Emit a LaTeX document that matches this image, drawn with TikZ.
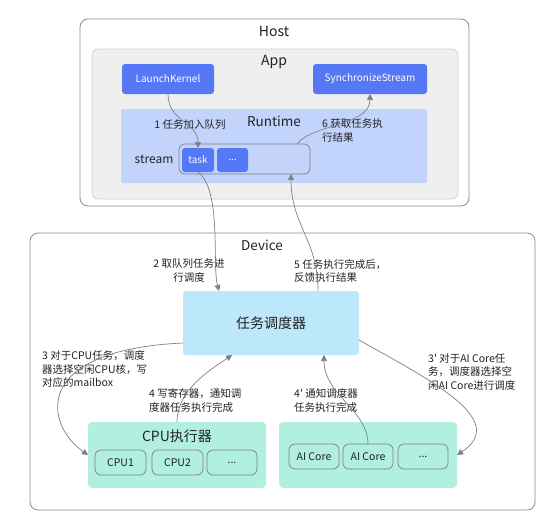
\documentclass[tikz,border=0pt]{standalone}
\usepackage{fontspec}
\setmainfont{Noto Sans CJK SC}
\newfontfamily\aposfont{Noto Sans CJK SC}
\newcommand{\apos}{{\aposfont '}}
\usetikzlibrary{arrows.meta,calc}
\definecolor{hostline}{HTML}{8C8C8C}
\definecolor{appfill}{HTML}{EFEFEF}
\definecolor{appline}{HTML}{CFCFCF}
\definecolor{kblue}{HTML}{5677F6}
\definecolor{rtfill}{HTML}{C2D4FC}
\definecolor{schfill}{HTML}{BDE8FB}
\definecolor{mint}{HTML}{B1EFE1}
\definecolor{conn}{HTML}{808080}
\definecolor{txt}{HTML}{222222}
\begin{document}
\begin{tikzpicture}[x=1pt,y=-1pt,
  box/.style={inner sep=0pt,outer sep=0pt,minimum width=#1},
  frame/.style={draw=hostline,fill=white,rounded corners=8pt,line width=0.8pt},
  appbox/.style={draw=appline,fill=appfill,rounded corners=6pt,line width=0.6pt},
  bluebox/.style={fill=kblue,rounded corners=3pt,text=white,font=\fontsize{10}{12}\selectfont},
  rtbox/.style={fill=rtfill,rounded corners=2pt},
  streambox/.style={draw=conn,rounded corners=6pt,line width=0.7pt},
  schbox/.style={fill=schfill,rounded corners=3pt,text=txt,font=\fontsize{14}{16}\selectfont},
  mintbox/.style={fill=mint,rounded corners=4pt},
  corebox/.style={draw=conn,fill=mint,rounded corners=6pt,line width=0.7pt,text=txt,font=\fontsize{10.5}{12}\selectfont},
  title/.style={text=txt,inner sep=0pt,font=\fontsize{14}{16}\selectfont},
  lbl/.style={text=txt,inner sep=0pt,align=left,font=\fontsize{10.5}{13.5}\selectfont},
  arr/.style={draw=conn,line width=0.7pt,-{Triangle[width=6pt,length=6pt]}}
]
\useasboundingbox (0,0) rectangle (550,530);
% Host
\node[box=389pt,minimum height=187pt,frame] (host) at (274.5,112.5) {};
\node[title] (hostt) at (274,31) {Host};
\node[box=366pt,minimum height=150pt,appbox] (app) at (275,124) {};
\node[title] (appt) at (274,62) {App};
\node[box=92pt,minimum height=30pt,bluebox] (lk) at (168,79) {LaunchKernel};
\node[box=114pt,minimum height=30pt,bluebox] (ss) at (370,79) {SynchronizeStream};
\node[box=306pt,minimum height=74pt,rtbox] (rt) at (274,146) {};
\node[title,font=\fontsize{13.5}{16}\selectfont] (rtt) at (274,121) {Runtime};
\node[title,font=\fontsize{12}{14}\selectfont] (streamt) at (154,159) {stream};
\node[box=131pt,minimum height=30pt,streambox] (stream) at (244.5,159) {};
\node[box=32pt,minimum height=24pt,bluebox] (task) at (198,160) {task};
\node[box=31pt,minimum height=24pt,bluebox] (tdots) at (232.5,160) {...};
% Device
\node[box=505pt,minimum height=277pt,frame] (dev) at (282.5,371.5) {};
\node[title,font=\fontsize{13.5}{16}\selectfont] (devt) at (262,245) {Device};
\node[box=176pt,minimum height=64pt,schbox] (sch) at (271,323) {任务调度器};
\node[box=178pt,minimum height=66pt,mintbox] (cpu) at (177,455) {};
\node[title] (cput) at (177,436) {CPU执行器};
\node[box=51pt,minimum height=25pt,corebox] (cpu1) at (120.5,462.5) {CPU1};
\node[box=51pt,minimum height=25pt,corebox] (cpu2) at (177.5,462.5) {CPU2};
\node[box=50pt,minimum height=25pt,corebox] (cpud) at (232,462.5) {...};
\node[box=178pt,minimum height=66pt,mintbox] (ai) at (368,455) {};
\node[box=50pt,minimum height=25pt,corebox] (ai1) at (314,456.5) {AI Core};
\node[box=50pt,minimum height=25pt,corebox] (ai2) at (368,456.5) {AI Core};
\node[box=50pt,minimum height=25pt,corebox] (aid) at (423,456.5) {...};
% labels
\node[lbl] (l1) at (190,125) {1 任务加入队列};
\node[lbl,anchor=west] (l6) at (322,130.5) {6 获取任务执\\行结果};
\node[lbl,align=center] (l2) at (189,270.5) {2 取队列任务进\\行调度};
\node[lbl,anchor=west] (l5) at (294,271) {5 任务执行完成后，\\反馈执行结果};
\node[lbl,anchor=west] (l3) at (42,369.5) {3 对于CPU任务，调度\\器选择空闲CPU核，写\\对应的mailbox};
\node[lbl,anchor=west] (l4) at (149,400.5) {4 写寄存器，通知调\\度器任务执行完成};
\node[lbl,anchor=west] (l4p) at (294,400.5) {4\apos{} 通知调度器\\任务执行完成};
\node[lbl,anchor=west] (l3p) at (428,372) {3\apos{} 对于AI Core任\\务，调度器选择空\\闲AI Core进行调度};
% connectors
\draw[arr] (lk.south) .. controls (168,122) and (198,122) .. (task.north);
\draw[arr] ($(stream.north east)+(-13,0)$) .. controls (312,124) and (370,126) .. (ss.south);
\draw[arr] (task.south) .. controls (222,190) and (212,265) .. ($(sch.north)+(-52,0)$);
\draw[arr] ($(sch.north)+(47,0)$) .. controls (318,240) and (291,225) .. ($(stream.south)+(46.5,0)$);
\draw[arr] ($(sch.west)+(0,20)$) .. controls (30,350) and (45,425) .. (cpu.west);
\draw[arr] (cpu.north) .. controls (177,390) and (210,370) .. ($(sch.south)+(-39,0)$);
\draw[arr] (ai2.north) .. controls (368,410) and (324,395) .. ($(sch.south)+(53,0)$);
\draw[arr] ($(sch.east)+(0,17)$) .. controls (430,380) and (510,420) .. (ai.east);
\end{tikzpicture}
\end{document}
